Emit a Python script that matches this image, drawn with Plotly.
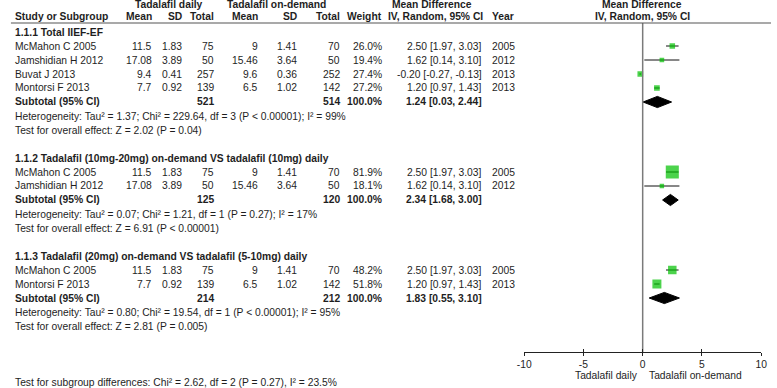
import plotly.graph_objects as go

W, H = 777, 388

# ---------------- data ----------------
sec_titles = ["1.1.1 Total IIEF-EF",
              "1.1.2 Tadalafil (10mg-20mg) on-demand VS tadalafil (10mg) daily",
              "1.1.3 Tadalafil (20mg) on-demand VS tadalafil (5-10mg) daily"]
sec_studies = [["McMahon C 2005", "Jamshidian H 2012", "Buvat J 2013", "Montorsi F 2013"],
               ["McMahon C 2005", "Jamshidian H 2012"],
               ["McMahon C 2005", "Montorsi F 2013"]]
daily_mean = [["11.5", "17.08", "9.4", "7.7"], ["11.5", "17.08"], ["11.5", "7.7"]]
daily_sd = [["1.83", "3.89", "0.41", "0.92"], ["1.83", "3.89"], ["1.83", "0.92"]]
daily_n = [[75, 50, 257, 139], [75, 50], [75, 139]]
od_mean = [["9", "15.46", "9.6", "6.5"], ["9", "15.46"], ["9", "6.5"]]
od_sd = [["1.41", "3.64", "0.36", "1.02"], ["1.41", "3.64"], ["1.41", "1.02"]]
od_n = [[70, 50, 252, 142], [70, 50], [70, 142]]
weights = [[26.0, 19.4, 27.4, 27.2], [81.9, 18.1], [48.2, 51.8]]
md = [[2.50, 1.62, -0.20, 1.20], [2.50, 1.62], [2.50, 1.20]]
md_lo = [[1.97, 0.14, -0.27, 0.97], [1.97, 0.14], [1.97, 0.97]]
md_hi = [[3.03, 3.10, -0.13, 1.43], [3.03, 3.10], [3.03, 1.43]]
years = [["2005", "2012", "2013", "2013"], ["2005", "2012"], ["2005", "2013"]]
sub_daily_n = [521, 125, 214]
sub_od_n = [514, 120, 212]
sub_md = [1.24, 2.34, 1.83]
sub_lo = [0.03, 1.68, 0.55]
sub_hi = [2.44, 3.00, 3.10]
heterogeneity = ["Heterogeneity: Tau² = 1.37; Chi² = 229.64, df = 3 (P < 0.00001); I² = 99%",
                 "Heterogeneity: Tau² = 0.07; Chi² = 1.21, df = 1 (P = 0.27); I² = 17%",
                 "Heterogeneity: Tau² = 0.80; Chi² = 19.54, df = 1 (P < 0.00001); I² = 95%"]
overall = ["Test for overall effect: Z = 2.02 (P = 0.04)",
           "Test for overall effect: Z = 6.91 (P < 0.00001)",
           "Test for overall effect: Z = 2.81 (P = 0.005)"]
subgroup_test = "Test for subgroup differences: Chi² = 2.62, df = 2 (P = 0.27), I² = 23.5%"
x_ticks = [-10, -5, 0, 5, 10]
favours = ["Tadalafil daily", "Tadalafil on-demand"]

# ---------------- layout helpers ----------------
FONT = "Liberation Sans, Arial, sans-serif"
FS = 10.3
TXT = "#1e1e1e"
GREEN = "#00c000"
ROW0, STEP = 32, 14          # pixel y of first row, row spacing
AX_PY, TOP_PY = 352, 23      # x-axis line, header rule
X0_PX, X1_PX = 526, 767      # -10 .. 10

def py_row(r):
    return ROW0 + STEP * r

def yp(py):
    return (H - py) / H

annots = []

def txt(x, py, s, anchor="left", bold=False, size=FS):
    annots.append(dict(x=x / W, y=yp(py), xref="paper", yref="paper", text=("<b>%s</b>" % s) if bold else s,
                       showarrow=False, xanchor=anchor, yanchor="middle", borderpad=0,
                       font=dict(family=FONT, size=size, color=TXT)))

# column positions (pixels)
C_NAME = 7
C_DM, C_DSD, C_DN = 148, 179, 212
C_OM, C_OSD, C_ON = 256, 296, 340
C_W, C_CI, C_YR = 382, 484, 492

# headers
txt(165, 5, "Tadalafil daily", "center", True)
txt(274, 5, "Tadalafil on-demand", "center", True)
txt(432, 5, "Mean Difference", "center", True)
txt(646, 5, "Mean Difference", "center", True)
txt(C_NAME, 17, "Study or Subgroup", "left", True)
for x, s in [(C_DM, "Mean"), (C_DSD, "SD"), (C_DN, "Total"), (C_OM, "Mean"), (C_OSD, "SD"),
             (C_ON, "Total"), (C_W, "Weight"), (C_CI + 1, "IV, Random, 95% CI")]:
    txt(x, 17, s, "right", True)
txt(C_YR, 17, "Year", "left", True)
txt(646, 17, "IV, Random, 95% CI", "center", True)

fig = go.Figure()

r = 0
for s in range(len(sec_titles)):
    txt(C_NAME, py_row(r), sec_titles[s], "left", True)
    r += 1
    ys = []
    for i, name in enumerate(sec_studies[s]):
        py = py_row(r)
        txt(C_NAME, py, name)
        txt(C_DM, py, daily_mean[s][i], "right")
        txt(C_DSD, py, daily_sd[s][i], "right")
        txt(C_DN, py, str(daily_n[s][i]), "right")
        txt(C_OM, py, od_mean[s][i], "right")
        txt(C_OSD, py, od_sd[s][i], "right")
        txt(C_ON, py, str(od_n[s][i]), "right")
        txt(C_W, py, "%.1f%%" % weights[s][i], "right")
        txt(C_CI, py, "%.2f [%.2f, %.2f]" % (md[s][i], md_lo[s][i], md_hi[s][i]), "right")
        txt(C_YR, py, years[s][i], "left")
        ys.append(r)
        r += 1
    # study squares with CI whiskers
    fig.add_trace(go.Scatter(
        x=md[s], y=ys, mode="markers",
        marker=dict(symbol="square", color=GREEN, size=[2 + 0.135 * w for w in weights[s]],
                    line=dict(width=0)),
        error_x=dict(type="data", symmetric=False,
                     array=[h - m for h, m in zip(md_hi[s], md[s])],
                     arrayminus=[m - l for m, l in zip(md[s], md_lo[s])],
                     color="#111111", thickness=1, width=0),
        showlegend=False, hoverinfo="skip"))
    # subtotal
    py = py_row(r)
    txt(C_NAME, py, "Subtotal (95% CI)", "left", True)
    txt(C_DN, py, str(sub_daily_n[s]), "right", True)
    txt(C_ON, py, str(sub_od_n[s]), "right", True)
    txt(C_W, py, "100.0%", "right", True)
    txt(C_CI, py, "%.2f [%.2f, %.2f]" % (sub_md[s], sub_lo[s], sub_hi[s]), "right", True)
    hh = 0.4
    fig.add_trace(go.Scatter(
        x=[sub_lo[s], sub_md[s], sub_hi[s], sub_md[s], sub_lo[s]],
        y=[r, r - hh, r, r + hh, r], mode="lines", fill="toself",
        fillcolor="#000000", line=dict(color="#000000", width=1),
        showlegend=False, hoverinfo="skip"))
    r += 1
    txt(C_NAME, py_row(r), heterogeneity[s])
    r += 1
    txt(C_NAME, py_row(r), overall[s])
    r += 2

txt(C_NAME, 382, subgroup_test)
txt(643, 375, favours[0], "right")
txt(652, 375, favours[1], "left")

# axis geometry
r_bot = (AX_PY - ROW0) / STEP
r_top = (TOP_PY - ROW0) / STEP

# zero line
fig.add_trace(go.Scatter(x=[0, 0], y=[r_top, r_bot], mode="lines",
                         line=dict(color="#7a7a7a", width=1.5),
                         showlegend=False, hoverinfo="skip"))

shapes = [dict(type="line", xref="paper", yref="paper", x0=4 / W, x1=1, y0=yp(TOP_PY), y1=yp(TOP_PY),
               line=dict(color="#555555", width=1.2))]

xdom = [X0_PX / W, X1_PX / W]
fig.update_layout(
    width=W, height=H, margin=dict(l=0, r=0, t=0, b=0),
    paper_bgcolor="white", plot_bgcolor="white",
    annotations=annots, shapes=shapes,
    xaxis=dict(domain=xdom, range=[-10, 10], tickvals=x_ticks, ticktext=[str(v) for v in x_ticks],
               showline=True, linecolor="#222222", linewidth=1, ticks="outside", ticklen=3,
               tickcolor="#222222", showgrid=False, zeroline=False,
               tickfont=dict(family=FONT, size=FS, color=TXT), anchor="y"),
    xaxis2=dict(domain=xdom, range=[-10, 10], tickvals=x_ticks, showticklabels=False,
                ticks="inside", ticklen=3, tickcolor="#222222", showgrid=False, zeroline=False,
                overlaying="x", anchor="y", side="bottom", showline=False),
    yaxis=dict(domain=[yp(AX_PY), yp(TOP_PY)], range=[r_bot, r_top], visible=False, showgrid=False),
)
fig.add_trace(go.Scatter(x=[None], y=[None], xaxis="x2", showlegend=False, hoverinfo="skip"))

fig.write_html("out.html", config={"displayModeBar": False},
               post_script="document.body.style.margin='0';document.body.style.overflow='hidden';")
